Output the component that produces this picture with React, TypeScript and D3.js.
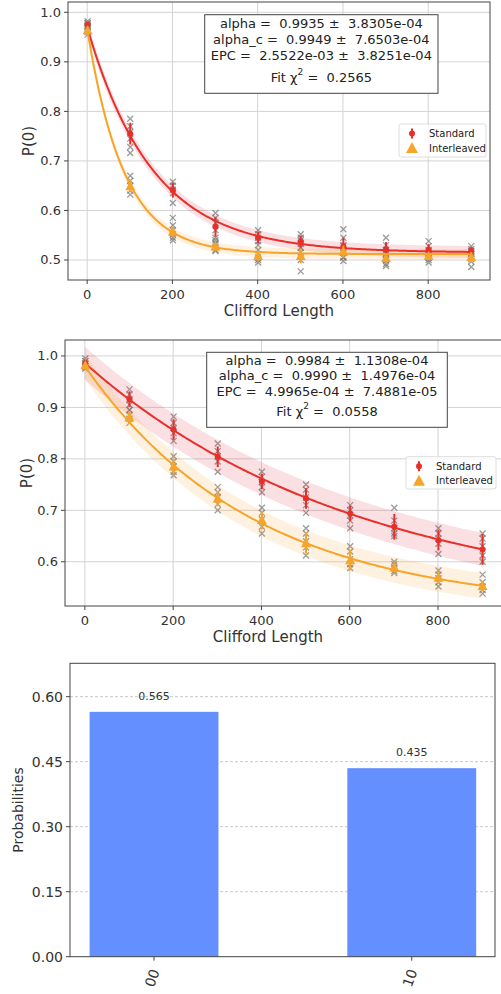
import React, { useEffect, useRef } from 'react';
import * as d3 from 'd3';

// Clifford lengths shared by both RB panels
const lengths = [1, 101, 201, 301, 401, 501, 601, 701, 801, 901];

// ---- panel 1 (top) ----
const p1StdMean = [0.975, 0.755, 0.641, 0.567, 0.545, 0.537, 0.527, 0.521, 0.52, 0.518];
const p1StdErr = [0.005, 0.022, 0.015, 0.02, 0.012, 0.012, 0.018, 0.015, 0.012, 0.008];
const p1IntMean = [0.964, 0.649, 0.557, 0.527, 0.508, 0.508, 0.517, 0.504, 0.508, 0.506];
const p1IntErr = [0.008, 0.012, 0.01, 0.008, 0.01, 0.015, 0.012, 0.01, 0.008, 0.01];
const p1StdSeeds = [
  [0.982, 0.978, 0.975, 0.972, 0.97],
  [0.785, 0.77, 0.758, 0.745, 0.728, 0.716],
  [0.658, 0.65, 0.642, 0.635, 0.615, 0.585],
  [0.595, 0.585, 0.575, 0.56, 0.545, 0.535],
  [0.56, 0.552, 0.545, 0.538, 0.53],
  [0.552, 0.545, 0.54, 0.532, 0.525],
  [0.562, 0.545, 0.528, 0.515, 0.505],
  [0.545, 0.53, 0.52, 0.512, 0.5],
  [0.538, 0.528, 0.52, 0.512, 0.505],
  [0.528, 0.522, 0.518, 0.512, 0.505],
];
const p1IntSeeds = [
  [0.978, 0.972, 0.965, 0.96, 0.955],
  [0.67, 0.66, 0.65, 0.64, 0.632],
  [0.57, 0.56, 0.552, 0.545, 0.54],
  [0.54, 0.532, 0.525, 0.52, 0.518],
  [0.52, 0.512, 0.505, 0.5, 0.495],
  [0.525, 0.515, 0.508, 0.5, 0.477],
  [0.53, 0.52, 0.515, 0.505, 0.498],
  [0.512, 0.505, 0.5, 0.492, 0.488],
  [0.515, 0.51, 0.505, 0.5, 0.495],
  [0.515, 0.508, 0.502, 0.497, 0.486],
];
// fit parameters (A * alpha^m + B)
const p1StdFit = [0.455, 0.9935, 0.515];
const p1IntFit = [0.455, 0.9884, 0.512];
const p1Text = [
  'alpha =  0.9935 \u00b1  3.8305e-04',
  'alpha_c =  0.9949 \u00b1  7.6503e-04',
  'EPC =  2.5522e-03 \u00b1  3.8251e-04',
];
const p1Chi = '0.2565';

// ---- panel 2 (middle) ----
const p2StdMean = [0.986, 0.916, 0.857, 0.804, 0.756, 0.723, 0.694, 0.668, 0.642, 0.624];
const p2StdErr = [0.005, 0.015, 0.02, 0.02, 0.015, 0.02, 0.015, 0.025, 0.02, 0.03];
const p2IntMean = [0.982, 0.881, 0.785, 0.723, 0.681, 0.636, 0.603, 0.589, 0.569, 0.553];
const p2IntErr = [0.006, 0.012, 0.015, 0.015, 0.018, 0.02, 0.02, 0.01, 0.012, 0.01];
const p2StdSeeds = [
  [0.995, 0.99, 0.985, 0.98],
  [0.935, 0.925, 0.915, 0.905, 0.895],
  [0.882, 0.87, 0.86, 0.85, 0.835],
  [0.83, 0.815, 0.805, 0.795, 0.775],
  [0.775, 0.765, 0.755, 0.745, 0.735],
  [0.75, 0.74, 0.725, 0.71, 0.695],
  [0.71, 0.7, 0.69, 0.68, 0.665],
  [0.705, 0.68, 0.665, 0.655, 0.65],
  [0.665, 0.655, 0.645, 0.635, 0.615],
  [0.655, 0.645, 0.63, 0.612, 0.6],
];
const p2IntSeeds = [
  [0.99, 0.985, 0.978, 0.975],
  [0.895, 0.885, 0.878, 0.87],
  [0.805, 0.795, 0.785, 0.775, 0.768],
  [0.745, 0.735, 0.725, 0.712, 0.7],
  [0.705, 0.695, 0.682, 0.668, 0.655],
  [0.665, 0.655, 0.64, 0.628, 0.612],
  [0.63, 0.62, 0.605, 0.595, 0.588],
  [0.6, 0.595, 0.588, 0.582, 0.578],
  [0.583, 0.575, 0.568, 0.56, 0.552],
  [0.575, 0.56, 0.552, 0.545, 0.538],
];
const p2StdFit = [0.474, 0.9984, 0.512];
const p2IntFit = [0.472, 0.9974, 0.508];
const p2Text = [
  'alpha =  0.9984 \u00b1  1.1308e-04',
  'alpha_c =  0.9990 \u00b1  1.4976e-04',
  'EPC =  4.9965e-04 \u00b1  7.4881e-05',
];
const p2Chi = '0.0558';

const rbXTicks = [0, 200, 400, 600, 800];
const rbYTicks = [0.5, 0.6, 0.7, 0.8, 0.9, 1.0];

// ---- panel 3 (histogram) ----
const histLabels = ['00', '10'];
const histValues = [0.565, 0.435];
const histYTicks = [0, 0.15, 0.3, 0.45, 0.6];

const RED = '#e8302a';
const ORANGE = '#f7a52a';
const FONT = 'DejaVu Sans, sans-serif';

// keep matplotlib's double spaces
const keepSpaces = (t) => t.replace(/ {2}/g, ' \u00a0');

function drawRb(svg, o) {
  const x = d3.scaleLinear().domain([-45, 945]).range([o.left, o.right]);
  const y = d3.scaleLinear().domain(o.yDomain).range([o.bottom, o.top]);
  const g = svg.append('g');

  g.append('clipPath').attr('id', o.id)
    .append('rect')
    .attr('x', o.left).attr('y', o.top)
    .attr('width', o.right - o.left).attr('height', o.bottom - o.top);

  // grid
  g.selectAll('.vg').data(rbXTicks).enter().append('line')
    .attr('x1', d => x(d)).attr('x2', d => x(d))
    .attr('y1', o.top).attr('y2', o.bottom)
    .attr('stroke', '#d3d3d3').attr('stroke-width', 1);
  g.selectAll('.hg').data(rbYTicks.filter(d => y(d) >= o.top && y(d) <= o.bottom)).enter().append('line')
    .attr('x1', o.left).attr('x2', o.right)
    .attr('y1', d => y(d)).attr('y2', d => y(d))
    .attr('stroke', '#d3d3d3').attr('stroke-width', 1);

  const plot = g.append('g').attr('clip-path', 'url(#' + o.id + ')');

  // raw seeds
  const seeds = [];
  [o.stdSeeds, o.intSeeds].forEach(set => set.forEach((vals, i) => vals.forEach(v => seeds.push([lengths[i], v]))));
  plot.selectAll('.seed').data(seeds).enter().append('path')
    .attr('d', d => {
      const cx = x(d[0]), cy = y(d[1]), s = 3;
      return `M${cx - s},${cy - s}L${cx + s},${cy + s}M${cx - s},${cy + s}L${cx + s},${cy - s}`;
    })
    .attr('stroke', '#7a7a7a').attr('stroke-width', 1.3).attr('opacity', 0.75).attr('fill', 'none');

  const ms = d3.range(0, 902, 4);
  const fitFn = (p, m) => p[0] * Math.pow(p[1], m) + p[2];

  const series = [
    { fit: o.stdFit, band: o.stdBand, color: RED, fill: 'rgba(226,60,75,0.16)', mean: o.stdMean, err: o.stdErr, marker: 'o' },
    { fit: o.intFit, band: o.intBand, color: ORANGE, fill: 'rgba(250,170,60,0.16)', mean: o.intMean, err: o.intErr, marker: '^' },
  ];

  series.forEach(s => {
    plot.append('path')
      .datum(ms)
      .attr('d', d3.area().x(m => x(m)).y0(m => y(fitFn(s.fit, m) - s.band)).y1(m => y(fitFn(s.fit, m) + s.band)))
      .attr('fill', s.fill);
  });
  series.forEach(s => {
    plot.append('path')
      .datum(ms)
      .attr('d', d3.line().x(m => x(m)).y(m => y(fitFn(s.fit, m))))
      .attr('fill', 'none').attr('stroke', s.color).attr('stroke-width', 2);
  });
  series.forEach(s => {
    const pts = g.append('g').selectAll('g').data(s.mean).enter().append('g');
    pts.append('line')
      .attr('x1', (d, i) => x(lengths[i])).attr('x2', (d, i) => x(lengths[i]))
      .attr('y1', (d, i) => y(d - s.err[i])).attr('y2', (d, i) => y(d + s.err[i]))
      .attr('stroke', s.color).attr('stroke-width', 2);
    if (s.marker === 'o') {
      pts.append('circle')
        .attr('cx', (d, i) => x(lengths[i])).attr('cy', d => y(d))
        .attr('r', 3).attr('fill', s.color);
    } else {
      pts.append('path')
        .attr('d', (d, i) => {
          const cx = x(lengths[i]), cy = y(d);
          return `M${cx},${cy - 5}L${cx + 5},${cy + 4}L${cx - 5},${cy + 4}Z`;
        })
        .attr('fill', s.color);
    }
  });

  // spines
  g.append('rect')
    .attr('x', o.left).attr('y', o.top)
    .attr('width', o.right - o.left).attr('height', o.bottom - o.top)
    .attr('fill', 'none').attr('stroke', '#444').attr('stroke-width', 1);

  // ticks
  g.selectAll('.xt').data(rbXTicks).enter().append('line')
    .attr('x1', d => x(d)).attr('x2', d => x(d))
    .attr('y1', o.bottom).attr('y2', o.bottom + 4)
    .attr('stroke', '#444');
  g.selectAll('.xl').data(rbXTicks).enter().append('text')
    .attr('x', d => x(d)).attr('y', o.bottom + 19)
    .attr('text-anchor', 'middle').attr('font-size', 13).attr('fill', '#333')
    .attr('font-family', FONT)
    .text(d => d);
  const yt = rbYTicks.filter(d => y(d) >= o.top && y(d) <= o.bottom);
  g.selectAll('.yt').data(yt).enter().append('line')
    .attr('x1', o.left - 4).attr('x2', o.left)
    .attr('y1', d => y(d)).attr('y2', d => y(d))
    .attr('stroke', '#444');
  g.selectAll('.yl').data(yt).enter().append('text')
    .attr('x', o.left - 7).attr('y', d => y(d))
    .attr('text-anchor', 'end').attr('dominant-baseline', 'central')
    .attr('font-size', 13).attr('fill', '#333').attr('font-family', FONT)
    .text(d => d.toFixed(1));

  g.append('text')
    .attr('transform', `translate(${o.yLabelX},${(o.top + o.bottom) / 2}) rotate(-90)`)
    .attr('text-anchor', 'middle').attr('dominant-baseline', 'central')
    .attr('font-size', 15).attr('fill', '#333').attr('font-family', FONT)
    .text('P(0)');
  g.append('text')
    .attr('x', o.xLabelX).attr('y', o.bottom + 36)
    .attr('text-anchor', 'middle')
    .attr('font-size', 15).attr('fill', '#333').attr('font-family', FONT)
    .text('Clifford Length');

  // fit text box
  const b = o.box;
  g.append('rect')
    .attr('x', b[0]).attr('y', b[1]).attr('width', b[2] - b[0]).attr('height', b[3] - b[1])
    .attr('fill', 'white').attr('stroke', '#444').attr('stroke-width', 1);
  const cx = (b[0] + b[2]) / 2;
  o.text.forEach((t, i) => {
    g.append('text')
      .attr('x', cx).attr('y', o.lineY[i])
      .attr('text-anchor', 'middle').attr('dominant-baseline', 'central')
      .attr('font-size', 13).attr('fill', '#222').attr('font-family', FONT)
      .text(keepSpaces(t));
  });
  const chi = g.append('text')
    .attr('x', cx).attr('y', o.lineY[3])
    .attr('text-anchor', 'middle').attr('dominant-baseline', 'central')
    .attr('font-size', 13).attr('fill', '#222').attr('font-family', FONT);
  chi.append('tspan').text('Fit \u03c7');
  chi.append('tspan').attr('dy', -5).attr('font-size', 9).text('2');
  chi.append('tspan').attr('dy', 5).text(keepSpaces(' =  ' + o.chi));

  // legend
  const l = o.legend;
  g.append('rect')
    .attr('x', l[0]).attr('y', l[1]).attr('width', l[2] - l[0]).attr('height', l[3] - l[1])
    .attr('rx', 2).attr('fill', 'white').attr('fill-opacity', 0.8)
    .attr('stroke', '#ddd');
  const ly1 = l[1] + 9.5, ly2 = l[1] + 24;
  const mx = l[0] + 13;
  g.append('line').attr('x1', mx).attr('x2', mx).attr('y1', ly1 - 5).attr('y2', ly1 + 5)
    .attr('stroke', RED).attr('stroke-width', 2);
  g.append('circle').attr('cx', mx).attr('cy', ly1).attr('r', 3).attr('fill', RED);
  g.append('path').attr('d', `M${mx},${ly2 - 6}L${mx + 6},${ly2 + 5}L${mx - 6},${ly2 + 5}Z`).attr('fill', ORANGE);
  [['Standard', ly1], ['Interleaved', ly2]].forEach(([t, yy]) => {
    g.append('text')
      .attr('x', l[0] + 30).attr('y', yy)
      .attr('dominant-baseline', 'central')
      .attr('font-size', 10).attr('fill', '#222').attr('font-family', FONT)
      .text(t);
  });
}

function drawHist(svg) {
  const left = 70, right = 495, top = 663.3, bottom = 956.7;
  const x = d3.scaleLinear().domain([-0.326, 1.323]).range([left, right]);
  const y = d3.scaleLinear().domain([0, 0.677]).range([bottom, top]);
  const g = svg.append('g');

  g.selectAll('.hg').data(histYTicks.filter(d => d > 0)).enter().append('line')
    .attr('x1', left).attr('x2', right)
    .attr('y1', d => y(d)).attr('y2', d => y(d))
    .attr('stroke', '#bbb').attr('stroke-width', 0.8).attr('stroke-dasharray', '3,2');

  g.selectAll('.bar').data(histValues).enter().append('rect')
    .attr('x', (d, i) => x(i - 0.25)).attr('width', (d, i) => x(i + 0.25) - x(i - 0.25))
    .attr('y', d => y(d)).attr('height', d => y(0) - y(d))
    .attr('fill', '#648fff');
  g.selectAll('.bl').data(histValues).enter().append('text')
    .attr('x', (d, i) => x(i)).attr('y', d => y(d) - 12)
    .attr('text-anchor', 'middle').attr('font-size', 11).attr('fill', '#333')
    .attr('font-family', FONT)
    .text(d => d.toFixed(3));

  g.append('rect')
    .attr('x', left).attr('y', top).attr('width', right - left).attr('height', bottom - top)
    .attr('fill', 'none').attr('stroke', '#444').attr('stroke-width', 1);

  g.selectAll('.yt').data(histYTicks).enter().append('line')
    .attr('x1', left - 4).attr('x2', left)
    .attr('y1', d => y(d)).attr('y2', d => y(d)).attr('stroke', '#444');
  g.selectAll('.yl').data(histYTicks).enter().append('text')
    .attr('x', left - 7).attr('y', d => y(d))
    .attr('text-anchor', 'end').attr('dominant-baseline', 'central')
    .attr('font-size', 14).attr('fill', '#333').attr('font-family', FONT)
    .text(d => d.toFixed(2));
  g.selectAll('.xt').data(histLabels).enter().append('line')
    .attr('x1', (d, i) => x(i)).attr('x2', (d, i) => x(i))
    .attr('y1', bottom).attr('y2', bottom + 4).attr('stroke', '#444');
  g.selectAll('.xl').data(histLabels).enter().append('text')
    .attr('transform', (d, i) => `translate(${x(i) - 2},978) rotate(-70)`)
    .attr('text-anchor', 'middle').attr('dominant-baseline', 'central')
    .attr('font-size', 14).attr('fill', '#333').attr('font-family', FONT)
    .text(d => d);

  g.append('text')
    .attr('transform', `translate(18,${(top + bottom) / 2}) rotate(-90)`)
    .attr('text-anchor', 'middle').attr('dominant-baseline', 'central')
    .attr('font-size', 14).attr('fill', '#333').attr('font-family', FONT)
    .text('Probabilities');
}

export default function App() {
  const ref = useRef(null);

  useEffect(() => {
    const svg = d3.select(ref.current);
    svg.selectAll('*').remove();

    drawRb(svg, {
      id: 'clip1', left: 68, right: 490, top: 2, bottom: 280,
      yDomain: [0.4596, 1.0208], yLabelX: 29, xLabelX: 279,
      stdSeeds: p1StdSeeds, intSeeds: p1IntSeeds,
      stdMean: p1StdMean, stdErr: p1StdErr, intMean: p1IntMean, intErr: p1IntErr,
      stdFit: p1StdFit, intFit: p1IntFit, stdBand: 0.012, intBand: 0.01,
      text: p1Text, chi: p1Chi,
      box: [204.7, 14.7, 438, 93.3], lineY: [23, 39, 55, 77],
      legend: [399, 124, 486, 157],
    });

    drawRb(svg, {
      id: 'clip2', left: 65, right: 502, top: 340, bottom: 606,
      yDomain: [0.514, 1.031], yLabelX: 27, xLabelX: 268,
      stdSeeds: p2StdSeeds, intSeeds: p2IntSeeds,
      stdMean: p2StdMean, stdErr: p2StdErr, intMean: p2IntMean, intErr: p2IntErr,
      stdFit: p2StdFit, intFit: p2IntFit, stdBand: 0.032, intBand: 0.025,
      text: p2Text, chi: p2Chi,
      box: [206.7, 352.3, 447.3, 427.3], lineY: [360, 375, 391, 411],
      legend: [406, 456.7, 496, 489],
    });

    drawHist(svg);
  }, []);

  return (
    <svg
      ref={ref}
      width={501}
      height={994}
      style={{ position: 'absolute', left: 0, top: 0, background: 'white', display: 'block' }}
    />
  );
}
